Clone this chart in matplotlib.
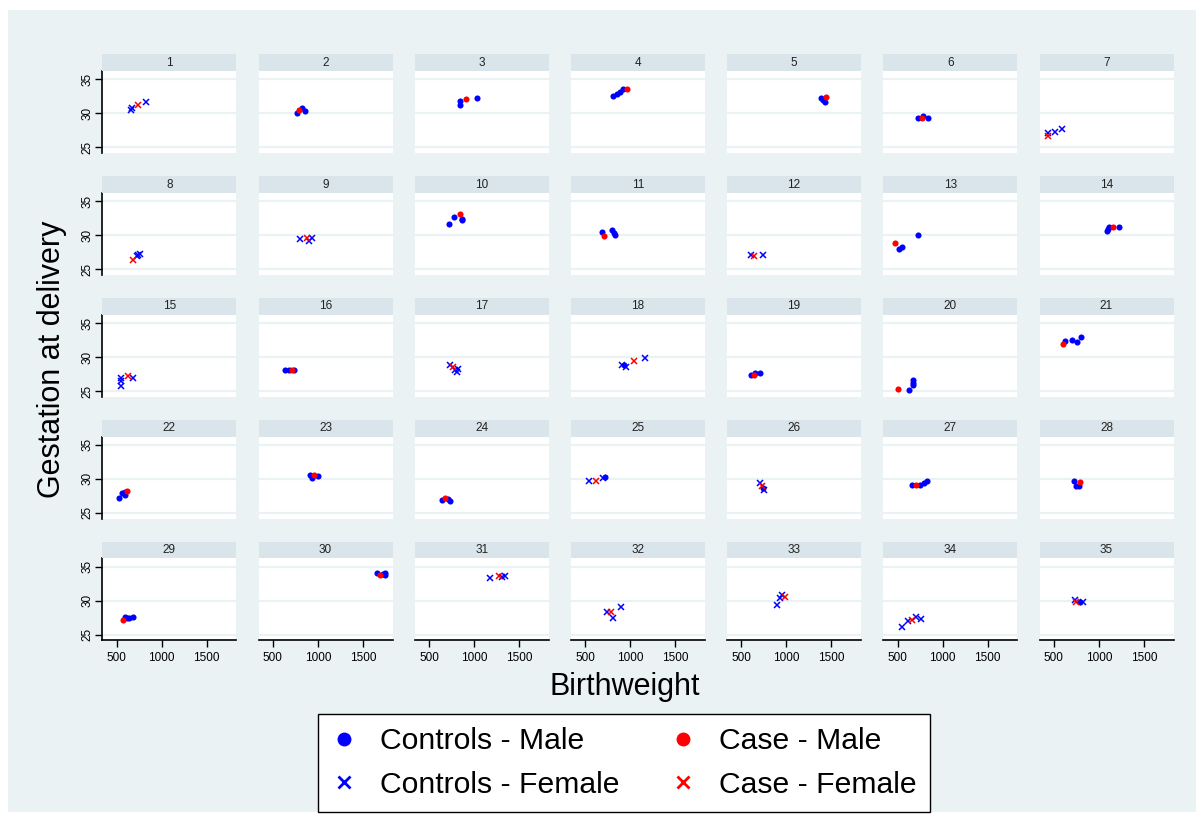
import matplotlib.pyplot as plt
from matplotlib.patches import Rectangle
from matplotlib.lines import Line2D

plt.rcParams['font.family'] = ['Liberation Sans', 'DejaVu Sans']

# ------------------------------------------------------------
# Data: panel id, birthweight (g), gestation at delivery (weeks)
# ------------------------------------------------------------
ctrl_male_id = [2, 2, 2, 3, 3, 3, 4, 4, 4, 4, 5, 5, 5, 6, 6, 6,
                10, 10, 10, 10, 11, 11, 11, 11, 13, 13, 13, 14, 14, 14, 14,
                16, 16, 16, 18, 19, 19, 19, 20, 20, 20, 20, 21, 21, 21, 21,
                22, 22, 22, 22, 23, 23, 23, 24, 24, 24, 25, 26,
                27, 27, 27, 27, 28, 28, 28, 29, 29, 29, 29, 30, 30, 30, 30, 35]
ctrl_male_bw = [765, 820, 860, 840, 840, 1029, 811, 849, 886, 916, 1381, 1426, 1405, 729, 834, 780,
                718, 773, 868, 866, 691, 801, 821, 833, 513, 553, 722, 1089, 1100, 1112, 1219,
                639, 679, 734, 925, 604, 655, 706, 628, 675, 675, 670, 620, 706, 754, 805,
                525, 557, 596, 588, 911, 998, 939, 639, 706, 738, 722, 740,
                659, 748, 792, 825, 724, 745, 779, 592, 615, 640, 685, 1657, 1722, 1749, 1749, 793]
ctrl_male_ga = [30.1, 30.85, 30.3, 31.85, 31.2, 32.25, 32.5, 32.85, 33.2, 33.5, 32.3, 31.6, 31.95, 29.25, 29.25, 29.6,
                31.7, 32.6, 32.4, 32.25, 30.4, 30.75, 30.25, 30.0, 27.9, 28.2, 29.95, 30.55, 30.9, 31.15, 31.15,
                28.1, 28.1, 28.1, 28.75, 27.4, 27.7, 27.65, 25.2, 25.9, 26.55, 26.2, 32.3, 32.55, 32.2, 32.95,
                27.15, 27.9, 27.65, 28.0, 30.5, 30.35, 30.1, 26.9, 27.0, 26.75, 30.3, 28.6,
                29.05, 29.05, 29.35, 29.65, 29.65, 28.9, 28.9, 27.55, 27.5, 27.4, 27.55, 34.1, 33.95, 34.1, 33.8, 29.75]

case_male_id = [2, 3, 4, 5, 6, 10, 11, 13, 14, 16, 19, 20, 21, 22, 23, 24, 27, 28, 29, 30]
case_male_bw = [787, 907, 960, 1436, 774, 844, 707, 474, 1152, 710, 636, 498, 596, 616, 958, 679, 702, 790, 574, 1686]
case_male_ga = [30.55, 32.1, 33.6, 32.35, 29.25, 33.1, 29.85, 28.9, 31.15, 28.1, 27.4, 25.3, 31.9, 28.2, 30.5, 27.25,
                29.05, 29.5, 27.15, 33.8]

ctrl_female_id = [1, 1, 1, 7, 7, 7, 8, 8, 8, 9, 9, 9, 12, 12, 15, 15, 15, 15,
                  17, 17, 17, 17, 18, 18, 18, 25, 25, 26, 26, 31, 31, 31, 32, 32, 32,
                  33, 33, 33, 34, 34, 34, 34, 35, 35]
ctrl_female_bw = [659, 670, 826, 431, 512, 587, 722, 754, 742, 801, 899, 939, 608, 734, 545, 545, 549, 683,
                  738, 785, 805, 817, 911, 951, 1167, 545, 702, 703, 750, 1174, 1306, 1349, 737, 803, 897,
                  900, 926, 945, 551, 618, 704, 758, 737, 822]
ctrl_female_ga = [30.45, 30.75, 31.7, 27.1, 27.2, 27.7, 26.9, 27.3, 27.05, 29.4, 29.15, 29.65, 27.05, 27.1,
                  25.8, 26.4, 26.85, 26.85, 28.8, 28.1, 27.85, 28.3, 28.75, 28.6, 29.9, 29.7, 30.1,
                  29.35, 28.3, 33.4, 33.5, 33.6, 28.4, 27.5, 29.05, 29.4, 30.4, 30.8,
                  26.1, 26.95, 27.55, 27.35, 30.15, 29.75]

case_female_id = [1, 7, 8, 9, 12, 15, 17, 18, 25, 26, 31, 32, 33, 34, 35]
case_female_bw = [734, 431, 683, 880, 636, 624, 765, 1041, 624, 728, 1276, 785, 982, 662, 749]
case_female_ga = [31.2, 26.6, 26.4, 29.6, 26.9, 27.2, 28.55, 29.4, 29.7, 28.9, 33.6, 28.4, 30.5, 27.15, 29.75]

x_ticks = [500, 1000, 1500]
y_ticks = [25, 30, 35]

BG = "#eaf2f3"
STRIP = "#d9e5ea"
BLUE = "#0000ff"
RED = "#ff0000"

W, H = 1203, 818
fig = plt.figure(figsize=(W / 100, H / 100), dpi=100, facecolor="white")
fig.patches.append(Rectangle((8 / W, 1 - 812 / H), 1188 / W, 802 / H,
                             transform=fig.transFigure, facecolor=BG,
                             edgecolor="none", zorder=-10))


def pick(ids, bw, ga, k):
    xs = [b for i, b in zip(ids, bw) if i == k]
    ys = [g for i, g in zip(ids, ga) if i == k]
    return xs, ys


for k in range(1, 36):
    r, c = divmod(k - 1, 7)
    left = 102.3 + c * 156.2
    top = 71 + r * 121.85
    ax = fig.add_axes([left / W, 1 - (top + 82) / H, 134 / W, 82 / H])
    ax.set_facecolor("white")
    ax.set_axisbelow(True)
    ax.set_xlim(340, 1830)
    ax.set_ylim(24.16, 36.22)
    ax.set_xticks(x_ticks)
    ax.set_yticks(y_ticks)
    ax.yaxis.grid(True, color=BG, linewidth=1.6)
    for s in ax.spines.values():
        s.set_visible(False)

    is_left = c == 0
    is_bottom = r == 4
    ax.tick_params(axis="y", left=is_left, labelleft=is_left, length=5,
                   width=1, labelsize=8.5, pad=1.5, labelrotation=90)
    ax.tick_params(axis="x", bottom=is_bottom, labelbottom=is_bottom,
                   length=5, width=1, labelsize=8.5, pad=3)
    if is_left:
        ax.spines["left"].set_visible(True)
        ax.spines["left"].set_linewidth(1.2)
        for lab in ax.get_yticklabels():
            lab.set_va("center")
    if is_bottom:
        ax.spines["bottom"].set_visible(True)
        ax.spines["bottom"].set_linewidth(1.2)

    x, y = pick(ctrl_male_id, ctrl_male_bw, ctrl_male_ga, k)
    ax.plot(x, y, "o", color=BLUE, ms=4.4, mec="none")
    x, y = pick(ctrl_female_id, ctrl_female_bw, ctrl_female_ga, k)
    ax.plot(x, y, "x", color=BLUE, ms=4.4, mew=1.1)
    x, y = pick(case_male_id, case_male_bw, case_male_ga, k)
    ax.plot(x, y, "o", color=RED, ms=4.4, mec="none")
    x, y = pick(case_female_id, case_female_bw, case_female_ga, k)
    ax.plot(x, y, "x", color=RED, ms=4.4, mew=1.1)

    # strip with panel number
    sx = fig.add_axes([left / W, 1 - top / H, 134 / W, 16.7 / H])
    sx.set_facecolor(STRIP)
    sx.set_xticks([])
    sx.set_yticks([])
    for s in sx.spines.values():
        s.set_visible(False)
    sx.text(0.5, 0.5, str(k), ha="center", va="center", fontsize=8.5,
            color="#222222", transform=sx.transAxes)

fig.text(52 / W, 1 - 359 / H, "Gestation at delivery", rotation=90,
         ha="center", va="center", fontsize=22)
fig.text(625 / W, 1 - 687 / H, "Birthweight", ha="center", va="center",
         fontsize=22)

handles = [
    Line2D([], [], ls="none", marker="o", color=BLUE, ms=10, mec="none"),
    Line2D([], [], ls="none", marker="x", color=BLUE, ms=9, mew=2),
    Line2D([], [], ls="none", marker="o", color=RED, ms=10, mec="none"),
    Line2D([], [], ls="none", marker="x", color=RED, ms=9, mew=2),
]
labels = ["Controls - Male", "Controls - Female", "Case - Male", "Case - Female"]
leg = fig.legend(handles, labels, ncol=2, loc="center",
                 bbox_to_anchor=(624 / W, 1 - 763 / H), fontsize=21.7,
                 frameon=True, fancybox=False, framealpha=1,
                 edgecolor="black", handlelength=0.8, handletextpad=0.8,
                 columnspacing=1.7, borderpad=0.45, labelspacing=0.5)
leg.get_frame().set_linewidth(1.0)

fig.savefig("out.png", dpi=100, facecolor=fig.get_facecolor())
